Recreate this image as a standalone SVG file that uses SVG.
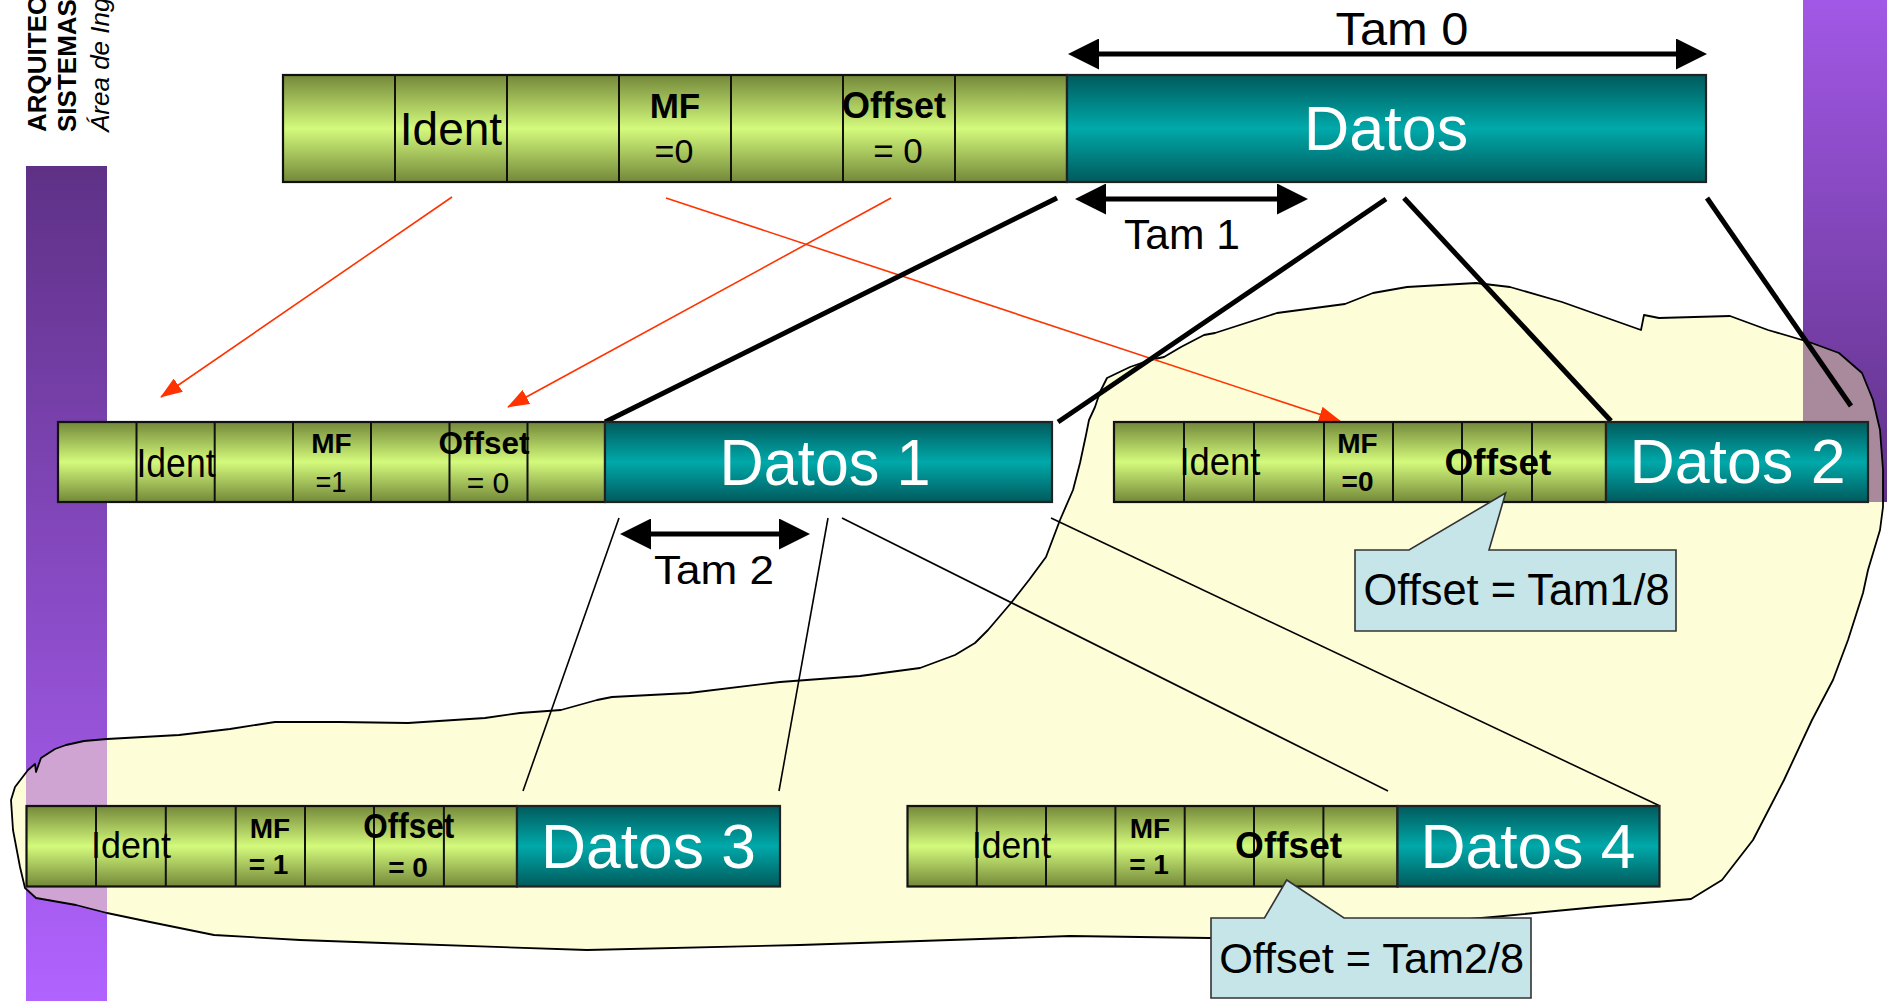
<svg xmlns="http://www.w3.org/2000/svg" width="1887" height="1001" viewBox="0 0 1887 1001">
<style>
.g{fill:url(#gg);stroke:#111;stroke-width:2.2}
.t{fill:url(#tg);stroke:#222;stroke-width:2.2}
.dv{stroke:#111;stroke-width:2}
.tx{font-family:"Liberation Sans",Arial,sans-serif;fill:#000;text-anchor:middle}
.b{font-weight:bold}
.w{fill:#fff}
.thick{stroke:#000;stroke-width:5;fill:none}
.thin{stroke:#000;stroke-width:1.6;fill:none}
.red{stroke:#FF3300;stroke-width:1.6;fill:none;marker-end:url(#ra)}
.dim{stroke:#000;stroke-width:5;fill:none;marker-start:url(#da);marker-end:url(#da)}
.call{fill:#C5E5E9;stroke:#333;stroke-width:1.6}
</style>
<defs>
<linearGradient id="gg" x1="0" y1="0" x2="0" y2="1">
<stop offset="0" stop-color="#738839"/>
<stop offset="0.5" stop-color="#D4FA7C"/>
<stop offset="1" stop-color="#738839"/>
</linearGradient>
<linearGradient id="tg" x1="0" y1="0" x2="0" y2="1">
<stop offset="0" stop-color="#005A5C"/>
<stop offset="0.5" stop-color="#00A9AA"/>
<stop offset="1" stop-color="#005A5C"/>
</linearGradient>
<linearGradient id="lbar" x1="0" y1="0" x2="0" y2="1">
<stop offset="0" stop-color="#5E3186"/>
<stop offset="1" stop-color="#B163FF"/>
</linearGradient>
<linearGradient id="rbar" x1="0" y1="0" x2="0" y2="1">
<stop offset="0" stop-color="#A258E6"/>
<stop offset="1" stop-color="#5E3186"/>
</linearGradient>
<marker id="ra" viewBox="0 0 22 16" refX="21" refY="8" markerWidth="22" markerHeight="16" markerUnits="userSpaceOnUse" orient="auto">
<path d="M0,0 L22,8 L0,16 z" fill="#FF3300"/>
</marker>
<marker id="da" viewBox="0 0 31 31" refX="1" refY="15.5" markerWidth="31" markerHeight="31" markerUnits="userSpaceOnUse" orient="auto-start-reverse">
<path d="M0,0 L31,15.5 L0,31 z" fill="#000"/>
</marker>
<path id="blobp" d="M11,800 L15,787 L28,770 L35,764 L36,772 L41,758 L55,749 L66,745 L84,741 L107,739 L179,735 L230,729 L275,722 L340,722 L408,723 L485,718 L520,713 L561,710 L597,700 L612,697 L689,693 L780,682 L860,676 L920,668 L955,655 L975,643 L988,630 L1011,603 L1029,580 L1046,557 L1060,520 L1073,490 L1080,463 L1086,435 L1089,420 L1095,407 L1100,392 L1107,378 L1130,367 L1150,360 L1164,357 L1181,347 L1204,335 L1215,333 L1277,313 L1345,304 L1373,293 L1407,287 L1476,283 L1510,287 L1562,302 L1641,330 L1644,315 L1659,318 L1730,316 L1768,330 L1809,342 L1839,353 L1862,373 L1873,400 L1880,430 L1883,470 L1883,507 L1880,530 L1868,570 L1863,593 L1848,640 L1833,680 L1812,720 L1784,780 L1753,840 L1722,880 L1691,899 L1597,907 L1493,917 L1400,925 L1300,933 L1209,938 L1070,936 L800,945 L587,950 L383,943 L300,940 L214,935 L150,922 L107,913 L76,905 L36,898 L25,888 L20,867 L13,830 Z"/>
<clipPath id="blobclip"><use href="#blobp"/></clipPath>
</defs>

<g id="background">
<rect x="26" y="166" width="81" height="835" fill="url(#lbar)"/>
<rect x="1803" y="0" width="84" height="502" fill="url(#rbar)"/>
<use href="#blobp" fill="#FDFDD8"/>
<g clip-path="url(#blobclip)">
<rect x="26" y="600" width="81" height="401" fill="#CFA3D2"/>
<rect x="1803" y="250" width="84" height="252" fill="#A88A9C"/>
</g>
<use href="#blobp" fill="none" stroke="#000" stroke-width="1.8" stroke-linejoin="round"/>
<g class="tx" style="text-anchor:start;font-size:26px">
<text transform="translate(46,132) rotate(-90)" class="b">ARQUITEC</text>
<text transform="translate(76,132) rotate(-90)" class="b">SISTEMAS</text>
<text transform="translate(109,132) rotate(-90)" font-style="italic">Área de Ing</text>
</g>
</g>

<g id="connectors">
<line class="red" x1="452" y1="197" x2="161" y2="397"/>
<line class="red" x1="891" y1="198" x2="508" y2="407"/>
<line class="red" x1="666" y1="198" x2="1340" y2="421"/>
<line class="thick" x1="1057" y1="198" x2="605" y2="422"/>
<line class="thick" x1="1386" y1="199" x2="1058" y2="422"/>
<line class="thick" x1="1404" y1="198" x2="1611" y2="421"/>
<line class="thick" x1="1707" y1="198" x2="1851" y2="406"/>
<line class="thin" x1="619" y1="518" x2="523" y2="791"/>
<line class="thin" x1="828" y1="518" x2="779" y2="791"/>
<line class="thin" x1="842" y1="518" x2="1388" y2="791"/>
<line class="thin" x1="1051" y1="518" x2="1660" y2="806"/>
</g>

<g id="tam0">
<line class="dim" x1="1098" y1="54" x2="1677" y2="54"/>
<text class="tx" x="1402" y="45" font-size="47" textLength="133" lengthAdjust="spacingAndGlyphs">Tam 0</text>
</g>
<g id="tam1">
<line class="dim" x1="1105" y1="199" x2="1278" y2="199"/>
<text class="tx" x="1182" y="249" font-size="43" textLength="116" lengthAdjust="spacingAndGlyphs">Tam 1</text>
</g>
<g id="tam2">
<line class="dim" x1="650" y1="534" x2="780" y2="534"/>
<text class="tx" x="714" y="584" font-size="41" textLength="120" lengthAdjust="spacingAndGlyphs">Tam 2</text>
</g>

<g id="packet0">
<rect class="g" x="283" y="75" width="784" height="107"/>
<rect class="t" x="1067" y="75" width="639" height="107"/>
<path class="dv" d="M395,75V182M507,75V182M619,75V182M731,75V182M843,75V182M955,75V182"/>
<text class="tx" x="451" y="145" font-size="46">Ident</text>
<text class="tx b" x="675" y="118" font-size="35">MF</text>
<text class="tx" x="674" y="163" font-size="34">=0</text>
<text class="tx b" x="894" y="118" font-size="36">Offset</text>
<text class="tx" x="898" y="163" font-size="35">= 0</text>
<text class="tx w" x="1386" y="150" font-size="63">Datos</text>
</g>

<g id="packet1">
<rect class="g" x="58" y="422" width="547" height="80"/>
<rect class="t" x="605" y="422" width="447" height="80"/>
<path class="dv" d="M136.5,422V502M214.7,422V502M293,422V502M371,422V502M449.5,422V502M527.5,422V502"/>
<text class="tx" x="176" y="477" font-size="40" textLength="79" lengthAdjust="spacingAndGlyphs">Ident</text>
<text class="tx b" x="331.5" y="453" font-size="28">MF</text>
<text class="tx" x="331" y="492" font-size="29" textLength="31" lengthAdjust="spacingAndGlyphs">=1</text>
<text class="tx b" x="484" y="454" font-size="31" textLength="91" lengthAdjust="spacingAndGlyphs">Offset</text>
<text class="tx" x="488" y="493" font-size="30">= 0</text>
<text class="tx w" x="825" y="485" font-size="64" textLength="211" lengthAdjust="spacingAndGlyphs">Datos 1</text>
</g>

<g id="packet2">
<rect class="g" x="1114" y="422" width="492" height="80"/>
<rect class="t" x="1606" y="422" width="262" height="80"/>
<path class="dv" d="M1184,422V502M1254,422V502M1324,422V502M1393,422V502M1462,422V502M1532,422V502"/>
<text class="tx" x="1220" y="475" font-size="38" textLength="81" lengthAdjust="spacingAndGlyphs">Ident</text>
<text class="tx b" x="1357.5" y="453" font-size="28">MF</text>
<text class="tx b" x="1357.5" y="491" font-size="28">=0</text>
<text class="tx b" x="1498" y="475" font-size="37">Offset</text>
<text class="tx w" x="1737.5" y="483" font-size="63" textLength="216" lengthAdjust="spacingAndGlyphs">Datos 2</text>
</g>

<g id="packet3">
<rect class="g" x="26.5" y="806" width="490.5" height="80.5"/>
<rect class="t" x="517" y="806" width="263" height="80.5"/>
<path class="dv" d="M96,806V886.5M165.8,806V886.5M235.7,806V886.5M305,806V886.5M374,806V886.5M443.9,806V886.5"/>
<text class="tx" x="131" y="858" font-size="37" textLength="80" lengthAdjust="spacingAndGlyphs">Ident</text>
<text class="tx b" x="270" y="838" font-size="28">MF</text>
<text class="tx b" x="268.5" y="874" font-size="28">= 1</text>
<text class="tx b" x="408.7" y="838" font-size="35" textLength="91" lengthAdjust="spacingAndGlyphs">Offset</text>
<text class="tx b" x="408" y="877" font-size="28">= 0</text>
<text class="tx w" x="648.5" y="868" font-size="63" textLength="215" lengthAdjust="spacingAndGlyphs">Datos 3</text>
</g>

<g id="packet4">
<rect class="g" x="907.5" y="806" width="490" height="80.5"/>
<rect class="t" x="1397.5" y="806" width="262" height="80.5"/>
<path class="dv" d="M976.8,806V886.5M1046,806V886.5M1115.4,806V886.5M1184.7,806V886.5M1254,806V886.5M1323.4,806V886.5"/>
<text class="tx" x="1011.5" y="858" font-size="37" textLength="79" lengthAdjust="spacingAndGlyphs">Ident</text>
<text class="tx b" x="1150" y="838" font-size="28">MF</text>
<text class="tx b" x="1149" y="874" font-size="28">= 1</text>
<text class="tx b" x="1288.6" y="858" font-size="37" textLength="107" lengthAdjust="spacingAndGlyphs">Offset</text>
<text class="tx w" x="1528" y="868" font-size="63" textLength="215" lengthAdjust="spacingAndGlyphs">Datos 4</text>
</g>

<g id="callout1">
<path class="call" d="M1355,550 L1409,550 L1505.6,493 L1489,550 L1676,550 L1676,631 L1355,631 Z"/>
<text class="tx" x="1516.6" y="605" font-size="44" textLength="306" lengthAdjust="spacingAndGlyphs">Offset = Tam1/8</text>
</g>

<g id="callout2">
<path class="call" d="M1211,918 L1264.5,918 L1286.7,880 L1344,918 L1531,918 L1531,998 L1211,998 Z"/>
<text class="tx" x="1371.7" y="973" font-size="43" textLength="305" lengthAdjust="spacingAndGlyphs">Offset = Tam2/8</text>
</g>
</svg>
